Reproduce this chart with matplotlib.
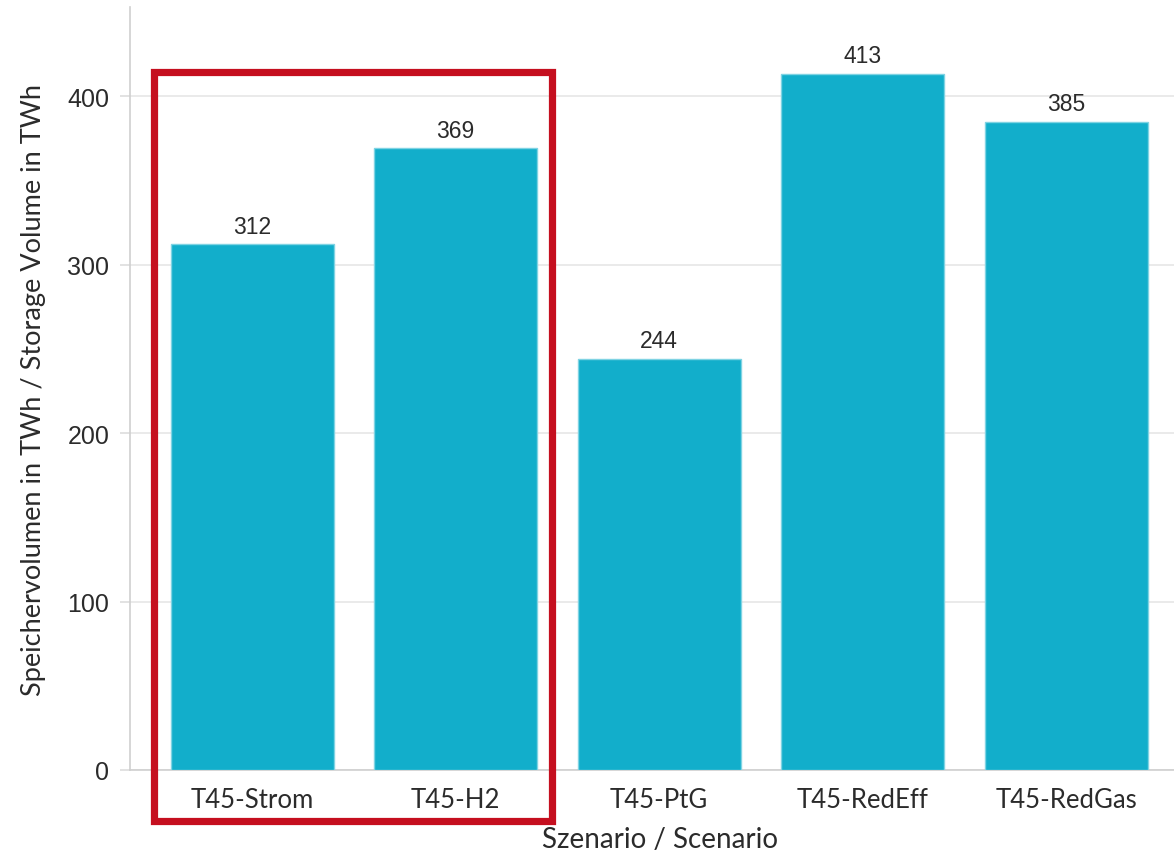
import matplotlib
matplotlib.use("Agg")
import matplotlib.pyplot as plt
from matplotlib.patches import Rectangle

scenarios = ["T45-Strom", "T45-H2", "T45-PtG", "T45-RedEff", "T45-RedGas"]
volumes = [312, 369, 244, 413, 385]
yticks = [0, 100, 200, 300, 400]

bar_color = "#12AECB"
text_color = "#2b2b2b"

fig = plt.figure(figsize=(11.74, 8.53), dpi=100)
ax = fig.add_axes([130 / 1174, 82 / 853, 1 - 130 / 1174, (771 - 8) / 853])

x = list(range(len(scenarios)))
bars = ax.bar(x, volumes, width=0.8, color=bar_color, edgecolor="#7fd3e3",
              linewidth=1.0, zorder=3)

for xi, v in zip(x, volumes):
    ax.annotate(f"{v}", (xi, v), xytext=(0, 5), textcoords="offset points",
                ha="center", va="bottom", fontsize=16.5,
                family="Liberation Sans", color=text_color)

ax.set_xlim(-0.6, 4.53)
ax.set_ylim(0, 453)
ax.set_yticks(yticks)
ax.set_xticks(x)
ax.set_xticklabels(scenarios)

for lab in ax.get_xticklabels():
    lab.set_family("Lato")
    lab.set_fontsize(18.5)
    lab.set_color(text_color)
for lab in ax.get_yticklabels():
    lab.set_family("Liberation Sans")
    lab.set_fontsize(18)
    lab.set_color(text_color)

ax.tick_params(axis="x", length=0, pad=12)
ax.tick_params(axis="y", length=7, color="#dddddd", width=1.2, pad=8)

ax.grid(axis="y", color="#e6e6e6", linewidth=1.2, zorder=0)
ax.set_axisbelow(True)
for side in ("top", "right"):
    ax.spines[side].set_visible(False)
for side in ("left", "bottom"):
    ax.spines[side].set_color("#cfcfcf")
    ax.spines[side].set_linewidth(1.2)

ax.set_ylabel("Speichervolumen in TWh / Storage Volume in TWh", family="Lato",
              fontsize=19.5, color=text_color)
ax.yaxis.set_label_coords(-(130 - 46) / (1174 - 130), 0.5)
ax.set_xlabel("Szenario / Scenario", family="Lato", fontsize=20,
              color=text_color)
ax.xaxis.set_label_coords((660 - 130) / (1174 - 130), -0.073)

# Highlight frame around the first two scenarios
frame = Rectangle((154 / 1174, 1 - 822 / 853), (552 - 154) / 1174,
                  (822 - 73) / 853, transform=fig.transFigure, fill=False,
                  edgecolor="#c50f1f", linewidth=5.2, zorder=10,
                  joinstyle="miter")
fig.patches.append(frame)

fig.savefig("out.png", dpi=100)
